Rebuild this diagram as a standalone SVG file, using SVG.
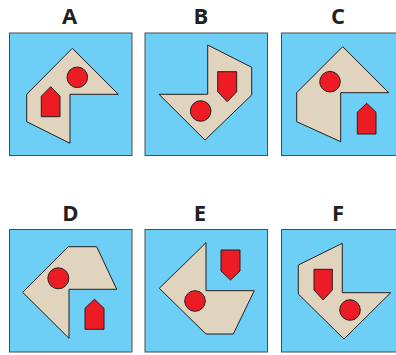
<svg xmlns="http://www.w3.org/2000/svg" width="396" height="355" viewBox="0 0 396 355">
<style>
.bg{fill:#6dcff6;stroke:#4d4d4f;stroke-width:1}
.sh{fill:#e0d4bf;stroke:#231f20;stroke-width:1}
.rd{fill:#ed1c24;stroke:#231f20;stroke-width:1}
.lb{font-family:"Open Sans","Liberation Sans",sans-serif;font-weight:bold;font-size:22px;fill:#231f20;text-anchor:middle}
</style>
<rect width="396" height="355" fill="#ffffff"/>
<g id="A">
<text class="lb" x="69.5" y="24">A</text>
<rect class="bg" x="9.5" y="33" width="122.5" height="122.5"/>
<polygon class="sh" points="72.3,48.3 118.3,94.3 70,94.3 70,143.3 26.7,121.7 26.7,94.3"/>
<circle class="rd" cx="77.3" cy="77.3" r="10.3"/>
<polygon class="rd" points="41.3,96.3 50.7,86.7 60,96.3 60,116.7 41.3,116.7"/>
</g>
<g id="B">
<text class="lb" x="201" y="24">B</text>
<rect class="bg" x="145" y="33" width="122.5" height="122.5"/>
<polygon class="sh" points="207.7,45 251.7,67.3 251.7,95 205,140 159,94.3 207.7,94.3"/>
<polygon class="rd" points="217.7,71.7 236.7,71.7 236.7,91.7 227.2,101.7 217.7,91.7"/>
<circle class="rd" cx="200.7" cy="111" r="10.3"/>
</g>
<g id="C">
<text class="lb" x="338" y="24">C</text>
<rect class="bg" x="281.5" y="33" width="122.5" height="122.5"/>
<polygon class="sh" points="342.7,46.7 388.7,92.7 340.7,92.7 340.7,141.7 296.7,121.7 296.7,92.7"/>
<circle class="rd" cx="330" cy="81.7" r="10.3"/>
<polygon class="rd" points="357.3,112.3 366.7,103.3 376,112.3 376,134 357.3,134"/>
</g>
<g id="D">
<text class="lb" x="70.5" y="221">D</text>
<rect class="bg" x="9.5" y="229.5" width="122.5" height="122.5"/>
<polygon class="sh" points="68.3,246.7 96.7,246.7 116.7,289.3 69,289.3 69,338.3 22.7,292.3"/>
<circle class="rd" cx="58.3" cy="278.3" r="10.5"/>
<polygon class="rd" points="85,308.3 94.5,299.3 104,308.3 104,329.3 85,329.3"/>
</g>
<g id="E">
<text class="lb" x="200" y="221">E</text>
<rect class="bg" x="145" y="229.5" width="122.5" height="122.5"/>
<polygon class="sh" points="206,242.7 206,290.7 254.3,290.7 233.3,334 206,334 159.3,288.3"/>
<circle class="rd" cx="195" cy="301" r="10.3"/>
<polygon class="rd" points="221,250 240,250 240,271 230.5,280 221,271"/>
</g>
<g id="F">
<text class="lb" x="338" y="221">F</text>
<rect class="bg" x="281.5" y="229.5" width="122.5" height="122.5"/>
<polygon class="sh" points="342.3,243.3 342.3,292.7 390.7,292.7 344,339 298.3,294 298.3,265"/>
<polygon class="rd" points="314,269.3 332.3,269.3 332.3,290 323.2,300 314,290"/>
<circle class="rd" cx="350" cy="310" r="10.3"/>
</g>
</svg>
